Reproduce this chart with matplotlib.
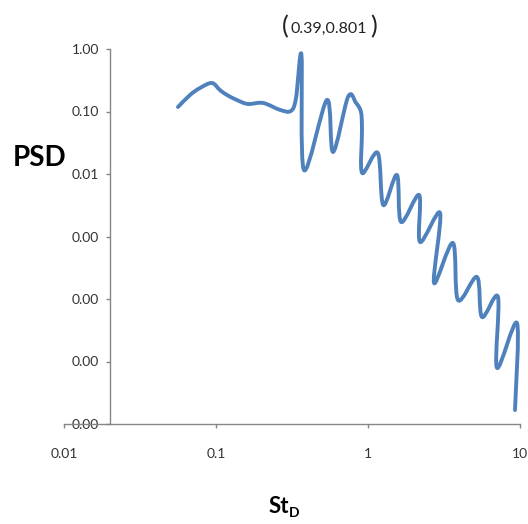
import matplotlib
matplotlib.use("Agg")
import numpy as np
import matplotlib.pyplot as plt
from matplotlib.path import Path
from matplotlib.patches import PathPatch
from matplotlib.ticker import FixedLocator, FuncFormatter, NullLocator

plt.rcParams['font.family'] = ['Lato', 'DejaVu Sans']

# Strouhal number (St_D) and PSD
st_d = [0.0562, 0.0675, 0.0785, 0.094, 0.106, 0.118, 0.137, 0.162, 0.204,
        0.264, 0.311, 0.336, 0.365, 0.379, 0.537, 0.589, 0.739, 0.834, 0.899,
        0.913, 0.915, 1.16, 1.26, 1.55, 1.65, 2.17, 2.20, 2.98, 2.72, 3.62,
        3.91, 5.21, 5.62, 7.16, 7.06, 9.55, 9.27]
psd = [0.118, 0.184, 0.238, 0.286, 0.221, 0.184, 0.153, 0.132, 0.137,
       0.106, 0.102, 0.164, 0.801, 0.0116, 0.153, 0.0225, 0.171, 0.137, 0.098,
       0.0506, 0.0104, 0.0217, 0.00319, 0.00964, 0.00171, 0.00461, 0.000817,
       0.00238, 0.000180, 0.000787, 9.6e-5, 0.000225, 5.15e-5, 0.000108,
       7.9e-6, 4.13e-5, 1.67e-6]

# peak as written in the chart's annotation
peak_label = '0.39,0.801'

x_ticks = [0.01, 0.1, 1, 10]
x_tick_labels = ['0.01', '0.1', '1', '10']
y_ticks = [1e-6, 1e-5, 1e-4, 1e-3, 1e-2, 1e-1, 1]

W, H = 528, 524
fig = plt.figure(figsize=(W / 100, H / 100), dpi=100)
ax = fig.add_axes([64 / W, 1 - 424 / H, 456 / W, 375 / H])


# Excel-style smoothed line: cubic bezier through the points, built in log space
def smooth_path(xs, ys):
    lx, ly = np.log10(xs), np.log10(ys)
    # scale y so the tangents are computed in (roughly) screen proportions
    k = (456 / 3) / (375 / 6)
    pts = np.column_stack([lx, ly * k])
    n = len(pts)
    verts = [pts[0]]
    codes = [Path.MOVETO]
    for i in range(n - 1):
        p0 = pts[max(i - 1, 0)]
        p1 = pts[i]
        p2 = pts[i + 1]
        p3 = pts[min(i + 2, n - 1)]
        verts += [p1 + (p2 - p0) / 6, p2 - (p3 - p1) / 6, p2]
        codes += [Path.CURVE4] * 3
    v = np.array(verts)
    v[:, 1] /= k
    return Path(10 ** v, codes)


ax.add_patch(PathPatch(smooth_path(st_d, psd), facecolor='none',
                       edgecolor='#4F81BD', linewidth=2.8,
                       joinstyle='round', capstyle='round'))

ax.set_xscale('log')
ax.set_yscale('log')
ax.set_xlim(0.01, 10)
ax.set_ylim(1e-6, 1)

ax.xaxis.set_major_locator(FixedLocator(x_ticks))
ax.xaxis.set_major_formatter(FuncFormatter(lambda v, p: x_tick_labels[x_ticks.index(v)] if v in x_ticks else ''))
ax.xaxis.set_minor_locator(NullLocator())
ax.yaxis.set_major_locator(FixedLocator(y_ticks))
ax.yaxis.set_major_formatter(FuncFormatter(lambda v, p: f'{v:.2f}'))
ax.yaxis.set_minor_locator(NullLocator())

for s in ['top', 'right']:
    ax.spines[s].set_visible(False)
for s in ['left', 'bottom']:
    ax.spines[s].set_color('#868686')
    ax.spines[s].set_linewidth(1.0)
ax.spines['left'].set_position(('data', 0.02))

ax.tick_params(axis='y', direction='out', length=3, width=1, color='#868686',
               pad=4.5, labelsize=10, labelcolor='#333333')
ax.tick_params(axis='x', direction='out', length=3, width=1, color='#868686',
               pad=14, labelsize=10, labelcolor='#333333')
for lab in ax.get_yticklabels():
    lab.set_bbox(dict(facecolor='white', edgecolor='none', pad=0.5))

def px(x, y):
    return x / W, 1 - y / H

fig.text(*px(40, 158), 'PSD', fontsize=20, fontweight='bold',
         ha='center', va='center', color='black')
fig.text(*px(289, 513), 'St', fontsize=16, fontweight='bold',
         ha='right', va='baseline', color='black')
fig.text(*px(289, 517), 'D', fontsize=10, fontweight='bold',
         ha='left', va='baseline', color='black')

fig.text(*px(329, 29), peak_label, fontsize=11.5,
         ha='center', va='center', color='#222222')
fig.text(*px(285, 27), '(', fontsize=18, ha='center', va='center', color='#222222')
fig.text(*px(374, 27), ')', fontsize=18, ha='center', va='center', color='#222222')

fig.savefig('out.png', dpi=100)
